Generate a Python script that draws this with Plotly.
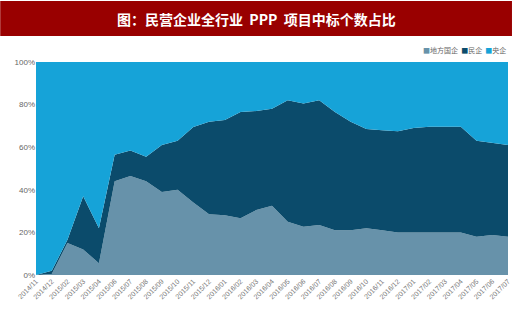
import plotly.graph_objects as go

months = ["2014/11", "2014/12", "2015/02", "2015/03", "2015/04", "2015/06", "2015/07",
          "2015/08", "2015/09", "2015/10", "2015/11", "2015/12", "2016/01", "2016/02",
          "2016/03", "2016/04", "2016/05", "2016/06", "2016/07", "2016/08", "2016/09",
          "2016/10", "2016/11", "2016/12", "2017/01", "2017/02", "2017/03", "2017/04",
          "2017/05", "2017/06", "2017/07"]

# shares in percent
local_soe = [0, 0.5, 15, 12, 5.5, 44, 46.5, 44, 39, 40, 34, 28.5, 28, 26.6, 30.5, 32.5,
             25, 22.7, 23.5, 21, 21, 22, 21, 20, 20, 20, 19.7, 20, 18, 18.8, 18]
private = [0, 1.5, 1.5, 25, 16.5, 12.5, 12, 11.5, 22, 23, 35.5, 43.5, 44.8, 49.9, 46.5, 45.5,
           57, 57.8, 58.5, 55.5, 51, 46.5, 47, 47.5, 49, 49.6, 49.9, 49.6, 45, 43.2, 43]
central = [round(100 - a - b, 1) for a, b in zip(local_soe, private)]

y_ticks = [0, 20, 40, 60, 80, 100]
y_labels = [f"{v}%" for v in y_ticks]

names = ["地方国企", "民企", "央企"]
colors = ["#6792aa", "#0b4b6b", "#16a3d8"]

fig = go.Figure()
for name, vals, col in zip(names, [local_soe, private, central], colors):
    fig.add_trace(go.Scatter(
        x=months, y=vals, name=name, mode="lines", stackgroup="one",
        line=dict(width=0, color=col), fillcolor=col, showlegend=False,
        hoverinfo="x+y+name"))

fig.update_layout(
    width=520, height=318,
    margin=dict(l=36, r=9, t=62, b=43),
    paper_bgcolor="white", plot_bgcolor="white",
    font=dict(family="Liberation Sans, Arial, Noto Sans CJK SC", size=8, color="#666666"),
    xaxis=dict(type="category", range=[0, 30], tickangle=-45, showgrid=False,
               tickfont=dict(size=7, color="#777777"), ticks="", zeroline=False,
               showline=False),
    yaxis=dict(range=[0, 100], tickmode="array", tickvals=y_ticks, ticktext=y_labels,
               showgrid=False, zeroline=False, tickfont=dict(size=8, color="#666666"),
               ticks=""),
)

# title bar
fig.add_shape(type="rect", xref="paper", yref="paper",
              x0=-36 / 475, x1=(515 - 36) / 475, y0=(275 - 36) / 213, y1=(275 - 1) / 213,
              fillcolor="#990000", line=dict(width=0), layer="above")
fig.add_annotation(xref="paper", yref="paper", x=(258 - 36) / 475, y=(275 - 18.5) / 213,
                   text="<b>图：民营企业全行业  PPP  项目中标个数占比</b>", showarrow=False,
                   xanchor="center", yanchor="middle",
                   font=dict(family="Noto Sans CJK SC", size=14, color="white"))

# legend (compact, as in the reference)
leg = ("<span style='color:%s'>■</span>地方国企  <span style='color:%s'>■</span>民企  "
       "<span style='color:%s'>■</span>央企") % tuple(colors)
fig.add_annotation(xref="paper", yref="paper", x=1.0, y=(275 - 50) / 213, text=leg,
                   showarrow=False, xanchor="right", yanchor="middle",
                   font=dict(family="Noto Sans CJK SC", size=7, color="#666666"))

fig.write_html("out.html")
